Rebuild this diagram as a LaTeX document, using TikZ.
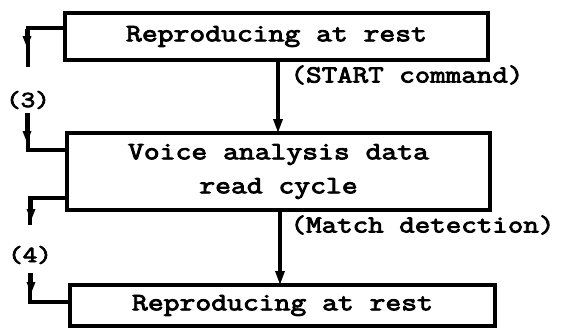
\documentclass[tikz,border=0pt]{standalone}
\usepackage{fontspec}
\newfontfamily\cour[FakeStretch=1.23,FakeBold=3.5]{Latin Modern Mono}
\usetikzlibrary{arrows.meta,calc}
\begin{document}
\begin{tikzpicture}[x=1pt,y=1pt,
  line width=3.2pt,
  box/.style={draw,rectangle,inner sep=0pt,font=\cour\fontsize{25}{28}\selectfont},
  lbl/.style={inner sep=0pt,anchor=west,font=\cour\fontsize{24.5}{28}\selectfont},
  num/.style={inner sep=0pt,font=\cour\fontsize{23}{25}\selectfont},
  arr/.style={-{Triangle[length=14pt,width=9pt]}},
  sarr/.style={-{Triangle[length=12pt,width=8pt]}}]
\useasboundingbox (0,0) rectangle (570,-332);
% boxes
\node[box,minimum width=423pt,minimum height=47pt] (b1) at (276.5,-36.5) {\raisebox{2pt}{Reproducing at rest}};
\node[box,minimum width=423pt,minimum height=77pt,align=center] (b2) at (278.5,-171.5) {Voice analysis data\\[6pt]read cycle};
\node[box,minimum width=425pt,minimum height=41pt] (b3) at (282.5,-305.5) {Reproducing at rest};
% main arrows
\draw[arr] (b1.south -| 278,0) -- (278,-133);
\draw[arr] (b2.south -| 280,0) -- (280,-285);
\node[lbl] (s) at (289,-75) {(START command)};
\node[lbl] (m) at (289,-225) {(Match detection)};
% loop (3)
\node[num] (n3) at (28,-100) {(3)};
\coordinate (a1) at ($(b1.west)+(0,8.5)$);
\coordinate (a2) at ($(b2.west)+(0,21.5)$);
\draw (a1) -| (n3.north |- 0,-67);
\draw[sarr] (27,-29) -- (27,-48);
\draw (n3.south |- 0,-113) |- (a2);
\draw[sarr] (27,-113) -- (27,-143);
% loop (4)
\node[num] (n4) at (30,-255) {(4)};
\coordinate (c1) at ($(b2.west)+(0,-26.5)$);
\coordinate (c2) at ($(b3.west)+(0,3.5)$);
\draw (c1) -| (n4.north |- 0,-225);
\draw[sarr] (31,-199) -- (31,-221);
\draw (n4.south |- 0,-273) |- (c2);
\draw[sarr] (31,-273) -- (31,-294);
\end{tikzpicture}
\end{document}
